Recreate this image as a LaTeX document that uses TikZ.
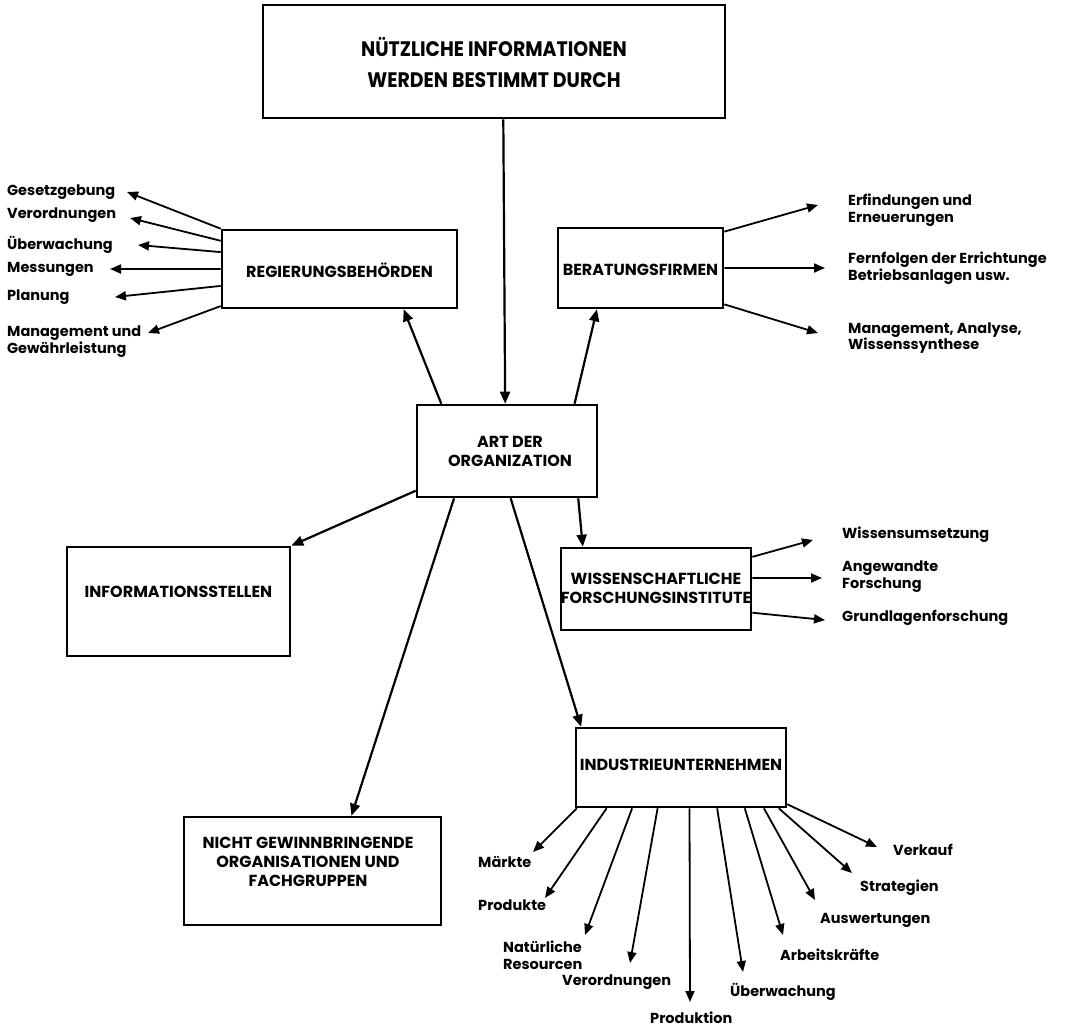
\documentclass[tikz,border=0pt]{standalone}
\usepackage{fontspec}
\setmainfont{Poppins}
\newfontfamily\titlefont{Poppins}[FakeStretch=0.9]
\newfontfamily\capsfont{Poppins}
\newfontfamily\labfont{Poppins}
\usetikzlibrary{arrows.meta,calc}
\begin{document}
\begin{tikzpicture}[x=1pt,y=-1pt,
  box/.style={draw,line width=2.6pt,inner sep=0pt,minimum width=#1},
  boxtext/.style={font=\capsfont\bfseries\fontsize{16}{19}\selectfont,align=center,inner sep=0pt},
  lab/.style={font=\labfont\bfseries\fontsize{14.5}{16.5}\selectfont,align=left,inner sep=0pt,anchor=west},
  arr/.style={line width=2.2pt,-{Triangle[length=12pt,width=10pt]}},
  ray/.style={line width=1.8pt,-{Triangle[length=11pt,width=9pt]}}]
\useasboundingbox (0,0) rectangle (1070,1031);

% boxes
\node[box=462pt,minimum height=113pt] (top) at (494,61.5) {};
\node[boxtext,font=\titlefont\bfseries\fontsize{21}{31}\selectfont] (toptxt) at (494,62)
  {NÜTZLICHE INFORMATIONEN\\WERDEN BESTIMMT DURCH};
\node[box=235pt,minimum height=78pt] (reg) at (339.5,269) {};
\node[boxtext] (regtxt) at (339.5,270) {REGIERUNGSBEHÖRDEN};
\node[box=165pt,minimum height=80pt] (ber) at (640.5,268) {};
\node[boxtext] (bertxt) at (640.5,270) {BERATUNGSFIRMEN};
\node[box=180pt,minimum height=92pt] (art) at (507,451) {};
\node[boxtext] (arttxt) at (510,451) {ART DER\\ORGANIZATION};
\node[box=223pt,minimum height=109pt] (info) at (178.5,601.5) {};
\node[boxtext] (infotxt) at (178.5,592) {INFORMATIONSSTELLEN};
\node[box=190pt,minimum height=82pt] (wiss) at (656,589) {};
\node[boxtext] (wisstxt) at (656,588) {WISSENSCHAFTLICHE\\FORSCHUNGSINSTITUTE};
\node[box=210pt,minimum height=79pt] (ind) at (681,767.5) {};
\node[boxtext] (indtxt) at (681,765) {INDUSTRIEUNTERNEHMEN};
\node[box=257pt,minimum height=108pt] (nicht) at (312.5,871) {};
\node[boxtext] (nichttxt) at (308,862) {NICHT GEWINNBRINGENDE\\ORGANISATIONEN UND\\FACHGRUPPEN};

% main connectors
\draw[arr] ($(top.south west)!0.52!(top.south east)$) -- ($(art.north west)!0.49!(art.north east)$);
\draw[arr] ($(art.north west)!0.14!(art.north east)$) -- ($(reg.south west)!0.77!(reg.south east)$);
\draw[arr] ($(art.north west)!0.87!(art.north east)$) -- ($(ber.south west)!0.24!(ber.south east)$);
\draw[arr] ($(art.north west)!0.92!(art.south west)$) -- (info.north east);
\draw[arr] ($(art.south west)!0.89!(art.south east)$) -- ($(wiss.north west)!0.12!(wiss.north east)$);
\draw[arr] ($(art.south west)!0.21!(art.south east)$) -- ($(nicht.north west)!0.65!(nicht.north east)$);
\draw[arr] ($(art.south west)!0.52!(art.south east)$) -- ($(ind.north west)!0.03!(ind.north east)$);

% Regierungsbehoerden
\node[lab] (g1) at (7,192) {Gesetzgebung};
\node[lab] (g2) at (7,215) {Verordnungen};
\node[lab] (g3) at (7,245) {Überwachung};
\node[lab] (g4) at (7,269) {Messungen};
\node[lab] (g5) at (7,297) {Planung};
\node[lab] (g6) at (7,341.5) {Management und\\Gewährleistung};
\coordinate (gt1) at (127,192);
\coordinate (gt2) at (130,218);
\coordinate (gt3) at (138,245);
\coordinate (gt4) at (110,269);
\coordinate (gt5) at (115,297);
\coordinate (gt6) at (148,333);
\foreach \f/\t in {0.0/gt1,0.15/gt2,0.29/gt3,0.5/gt4,0.71/gt5,0.96/gt6}
  \draw[ray] ($(reg.north west)!\f!(reg.south west)$) -- (\t);

% Beratungsfirmen
\node[lab] (b1) at (848,210) {Erfindungen und\\Erneuerungen};
\node[lab] (b2) at (848,268) {Fernfolgen der Errichtunge\\Betriebsanlagen usw.};
\node[lab] (b3) at (848,338) {Management, Analyse,\\Wissenssynthese};
\coordinate (bt1) at (818,205);
\coordinate (bt2) at (825,268);
\coordinate (bt3) at (818,333);
\foreach \f/\t in {0.06/bt1,0.5/bt2,0.94/bt3}
  \draw[ray] ($(ber.north east)!\f!(ber.south east)$) -- (\t);

% Wissenschaftliche Forschungsinstitute
\node[lab] (w1) at (842,535) {Wissensumsetzung};
\node[lab] (w2) at (842,576.5) {Angewandte\\Forschung};
\node[lab] (w3) at (842,618) {Grundlagenforschung};
\coordinate (wt1) at (813,540);
\coordinate (wt2) at (822,578);
\coordinate (wt3) at (825,620);
\foreach \f/\t in {0.12/wt1,0.37/wt2,0.78/wt3}
  \draw[ray] ($(wiss.north east)!\f!(wiss.south east)$) -- (\t);

% Industrieunternehmen
\node[lab] (i1) at (478,862) {Märkte};
\node[lab] (i2) at (478,905) {Produkte};
\node[lab] (i3) at (503,955) {Natürliche\\Resourcen};
\node[lab] (i4) at (562,982) {Verordnungen};
\node[lab] (i5) at (650,1018) {Produktion};
\node[lab] (i6) at (730,992) {Überwachung};
\node[lab] (i7) at (780,955) {Arbeitskräfte};
\node[lab] (i8) at (820,920) {Auswertungen};
\node[lab] (i9) at (860,888) {Strategien};
\node[lab] (i10) at (893,850) {Verkauf};
\coordinate (it1) at (533,852);
\coordinate (it2) at (545,898);
\coordinate (it3) at (585,935);
\coordinate (it4) at (630,963);
\coordinate (it5) at (690,1002);
\coordinate (it6) at (743,972);
\coordinate (it7) at (783,935);
\coordinate (it8) at (815,900);
\coordinate (it9) at (852,873);
\coordinate (it10) at (877,847);
\foreach \f/\t in {0.01/it1,0.15/it2,0.27/it3,0.39/it4,0.54/it5,0.67/it6,0.80/it7,0.89/it8,0.96/it9}
  \draw[ray] ($(ind.south west)!\f!(ind.south east)$) -- (\t);
\draw[ray] ($(ind.north east)!0.95!(ind.south east)$) -- (it10);
\end{tikzpicture}
\end{document}
